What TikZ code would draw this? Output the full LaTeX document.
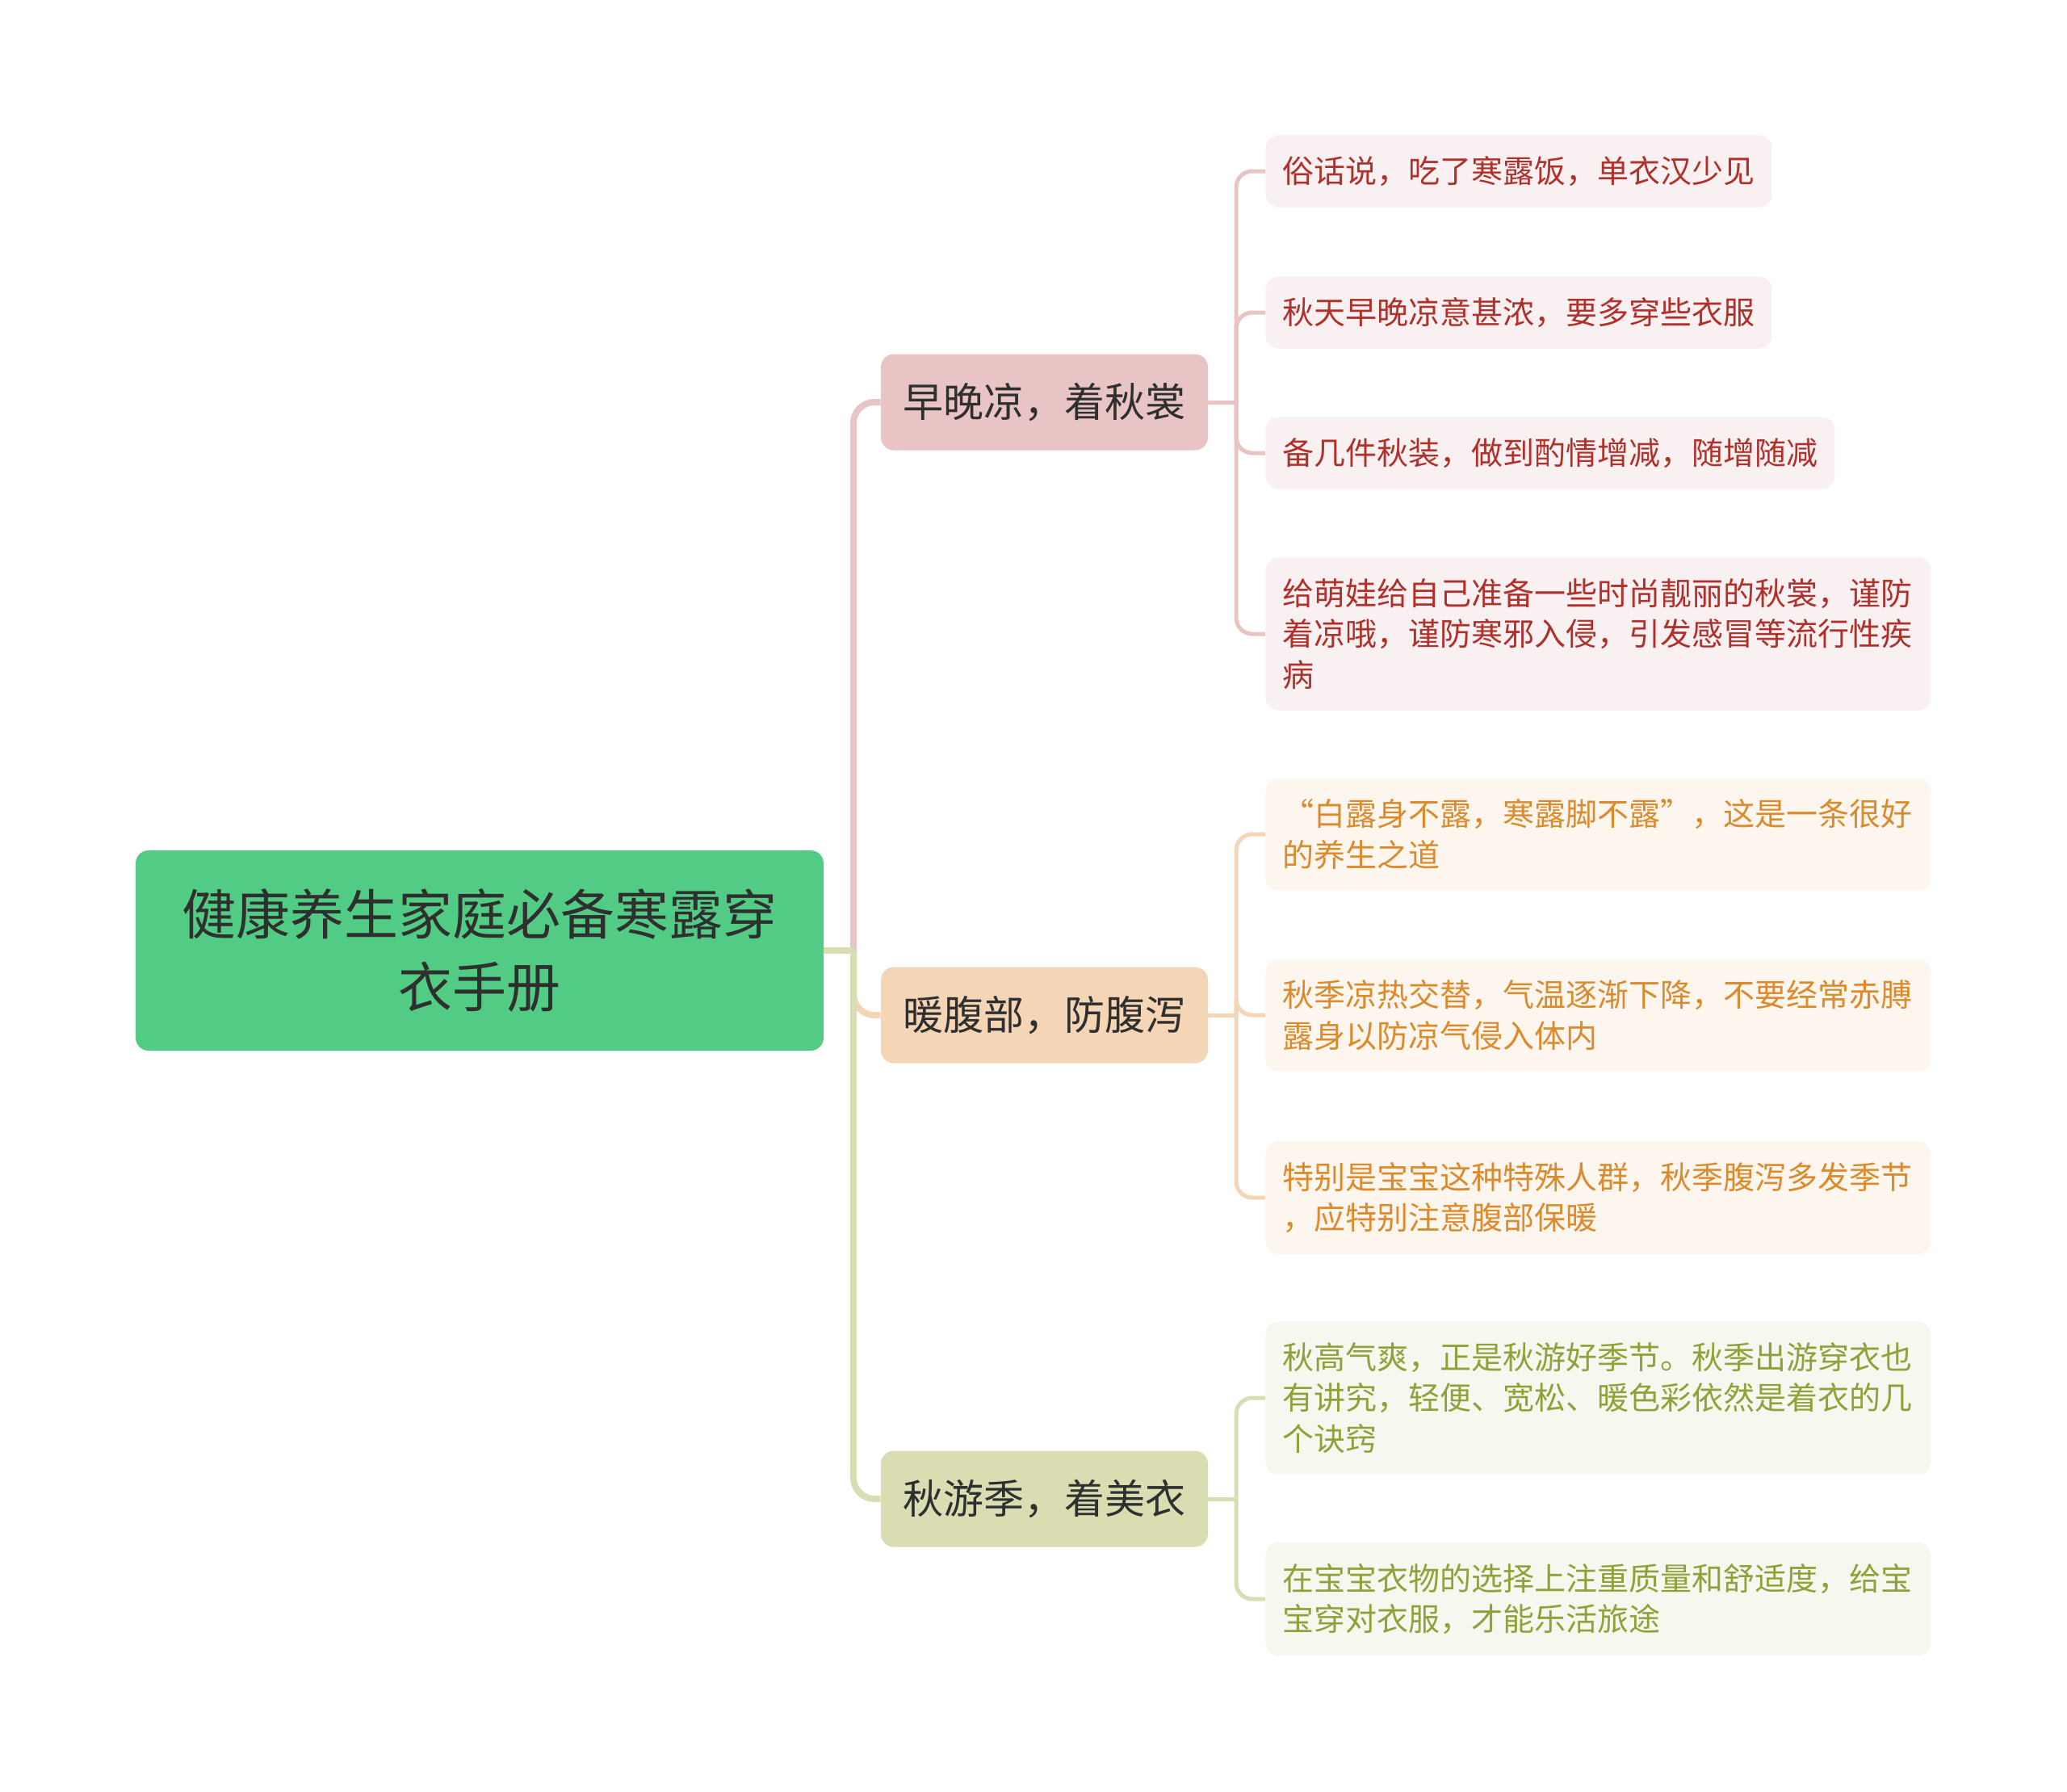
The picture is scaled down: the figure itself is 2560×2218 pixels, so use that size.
\documentclass[tikz,border=0pt]{standalone}
\usepackage{fontspec}
\setmainfont{Noto Sans CJK SC}

\definecolor{rootgreen}{HTML}{52CC84}
\definecolor{textdark}{HTML}{2F2F2F}
\definecolor{topicpink}{HTML}{E8C4C4}
\definecolor{topicpeach}{HTML}{F4D5B5}
\definecolor{topicolive}{HTML}{DADDB1}
\definecolor{leafpink}{HTML}{F9F1F1}
\definecolor{leafpeach}{HTML}{FDF6EE}
\definecolor{leafolive}{HTML}{F6F7EE}
\definecolor{textred}{HTML}{B0302B}
\definecolor{textorange}{HTML}{DB8A2C}
\definecolor{textolive}{HTML}{8FA23A}

\begin{document}
\begin{tikzpicture}[x=0.5pt, y=-0.5pt,
        base/.style={rectangle, rounded corners=8pt, inner sep=0pt},
        root/.style={base, fill=rootgreen, text=textdark, minimum width=426pt, minimum height=124pt, align=center, font=\fontsize{33.5pt}{45pt}\selectfont},
        topic/.style={base, minimum width=202.5pt, minimum height=59.5pt, text=textdark, font=\fontsize{25pt}{30pt}\selectfont},
        leaf/.style={base, anchor=west, align=left, inner xsep=10.5pt, inner ysep=13pt, font=\fontsize{19.5pt}{25.3pt}\selectfont},
        wide/.style={text width=391pt},
        leafA/.style={leaf, fill=leafpink, text=textred},
        leafB/.style={leaf, fill=leafpeach, text=textorange},
        leafC/.style={leaf, fill=leafolive, text=textolive},
        link/.style={line width=4pt, rounded corners=13pt},
        twig/.style={line width=2.5pt, rounded corners=10pt}
    ]
        \useasboundingbox (0,0) rectangle (2560,2218);

        % Nodes
        \node[root] (root) at (594, 1177) {健康养生家庭必备寒露穿\\衣手册};

        \node[topic, fill=topicpink] (cool) at (1293.5, 498) {早晚凉，着秋裳};
        \node[topic, fill=topicpeach] (belly) at (1293.5, 1257) {暖腹部，防腹泻};
        \node[topic, fill=topicolive] (trip) at (1293.5, 1856) {秋游季，着美衣};

        \node[leafA] (coolA) at (1567, 212) {俗话说，吃了寒露饭，单衣汉少见};
        \node[leafA] (coolB) at (1567, 387) {秋天早晚凉意甚浓，要多穿些衣服};
        \node[leafA] (coolC) at (1567, 561) {备几件秋装，做到酌情增减，随增随减};
        \node[leafA, wide] (coolD) at (1567, 785) {给萌娃给自己准备一些时尚靓丽的秋裳，谨防\\着凉哦，谨防寒邪入侵，引发感冒等流行性疾\\病};

        \node[leafB, wide] (bellyA) at (1567, 1033) {“白露身不露，寒露脚不露”，这是一条很好\\的养生之道};
        \node[leafB, wide] (bellyB) at (1567, 1257) {秋季凉热交替，气温逐渐下降，不要经常赤膊\\露身以防凉气侵入体内};
        \node[leafB, wide] (bellyC) at (1567, 1483) {特别是宝宝这种特殊人群，秋季腹泻多发季节\\，应特别注意腹部保暖};

        \node[leafC, wide] (tripA) at (1567, 1731) {秋高气爽，正是秋游好季节。秋季出游穿衣也\\有讲究，轻便、宽松、暖色彩依然是着衣的几\\个诀窍};
        \node[leafC, wide] (tripB) at (1567, 1980) {在宝宝衣物的选择上注重质量和舒适度，给宝\\宝穿对衣服，才能乐活旅途};

        % Connectors
        \coordinate (hub) at (1057, 1177);
        \coordinate (coolhub) at (1531, 498);
        \coordinate (bellyhub) at (1531, 1257);
        \coordinate (triphub) at (1531, 1856);

        \draw[link, topicpink] (hub) |- (cool.west);
        \draw[link, topicpeach] (hub) |- (belly.west);
        \draw[link, topicolive] (hub) |- (trip.west);
        \draw[link, topicolive] (root.east) -- (hub);

        \foreach \leafname in {coolA, coolB, coolC, coolD}
            \draw[twig, topicpink] (coolhub) |- (\leafname.west);
        \draw[twig, topicpink] (cool.east) -- (coolhub);
        \foreach \leafname in {bellyA, bellyB, bellyC}
            \draw[twig, topicpeach] (bellyhub) |- (\leafname.west);
        \draw[twig, topicpeach] (belly.east) -- (bellyhub);
        \foreach \leafname in {tripA, tripB}
            \draw[twig, topicolive] (triphub) |- (\leafname.west);
        \draw[twig, topicolive] (trip.east) -- (triphub);
    \end{tikzpicture}
\end{document}
